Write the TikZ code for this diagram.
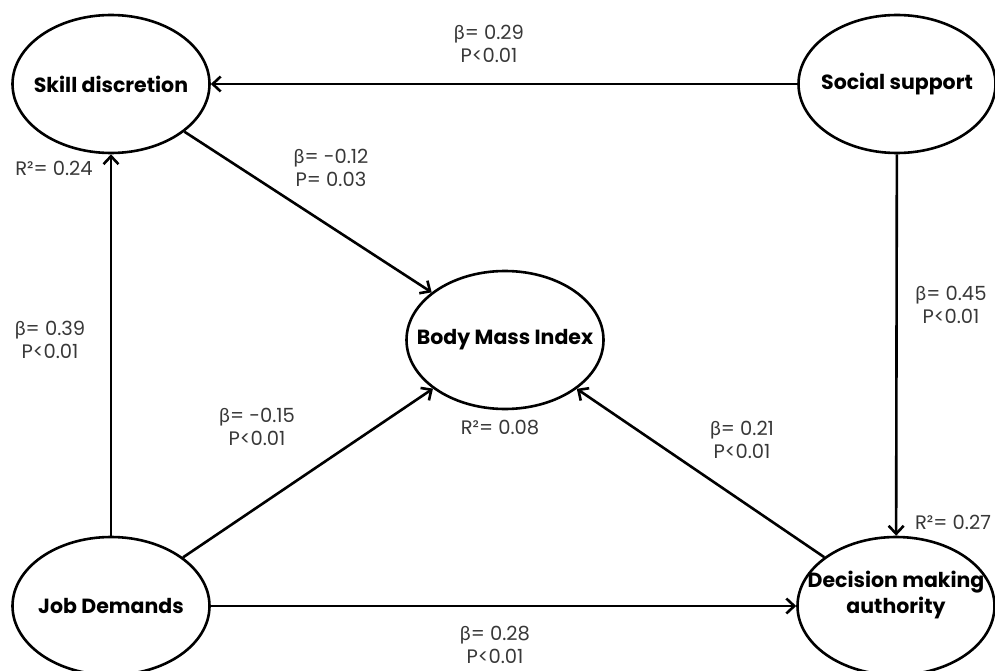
\documentclass[tikz,border=0pt]{standalone}
\usepackage{fontspec}
\setmainfont{Poppins}
\newfontfamily\grk{Lato}
\usetikzlibrary{shapes.geometric,arrows.meta}
\tikzset{
  latent/.style={ellipse, draw, line width=2.6pt, minimum width=197pt, minimum height=138pt, inner sep=0pt},
  ntext/.style={font=\fontsize{20.5}{26}\selectfont\bfseries, align=center, inner sep=0pt},
  coef/.style={font=\fontsize{19.5}{23.5}\selectfont, align=center, text=black!78, inner sep=0pt},
  path/.style={line width=2.6pt, -{Straight Barb[length=8pt,width=15pt]}},
}
\newcommand{\bet}{{\grk β}}
\begin{document}
\begin{tikzpicture}[x=1pt,y=-1pt]
\useasboundingbox (0,0) rectangle (995,671);
\fill[white] (0,0) rectangle (995,671);
% latent variables
\node[latent] (sd) at (111,84) {};
\node[latent] (ss) at (897,84) {};
\node[latent] (bmi) at (505,340) {};
\node[latent] (jd) at (111,606) {};
\node[latent] (dm) at (896,606) {};
% names
\node[ntext] (sdt) at (sd.center) {Skill discretion};
\node[ntext] (sst) at (ss.center) {Social support};
\node[ntext] (bmit) at (bmi.center) {Body Mass Index};
\node[ntext] (jdt) at (jd.center) {Job Demands};
\node[ntext] (dmt) at ([yshift=11pt]dm.center) {Decision making\\authority};
% paths
\draw[path] (ss) -- (sd);
\draw[path] (sd) -- (bmi);
\draw[path] (jd) -- (sd);
\draw[path] (jd) -- (bmi);
\draw[path] (jd) -- (dm);
\draw[path] (dm) -- (bmi);
\draw[path] (ss) -- (dm);
% coefficients
\node[coef] (c1) at (489,44) {\bet= 0.29\\P<0.01};
\node[coef] (c2) at (331,168) {\bet= -0.12\\P= 0.03};
\node[coef] (c3) at (50,340) {\bet= 0.39\\P<0.01};
\node[coef] (c4) at (257,427) {\bet= -0.15\\P<0.01};
\node[coef] (c5) at (951,305) {\bet= 0.45\\P<0.01};
\node[coef] (c6) at (742,440) {\bet= 0.21\\P<0.01};
\node[coef] (c7) at (495,645) {\bet= 0.28\\P<0.01};
% R squared
\node[coef] (r1) at (54,168) {R²= 0.24};
\node[coef] (r2) at (500,428) {R²= 0.08};
\node[coef] (r3) at (953,522) {R²= 0.27};
\end{tikzpicture}
\end{document}
